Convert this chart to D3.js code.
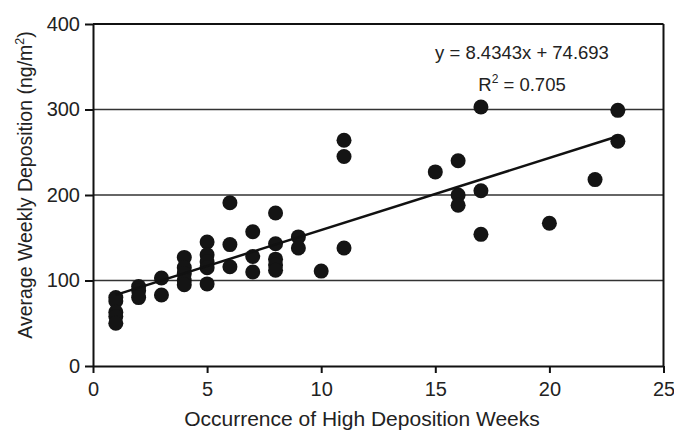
<!DOCTYPE html>
<html>
<head>
<meta charset="utf-8">
<script src="https://cdn.jsdelivr.net/npm/d3@7"></script>
<style>
  body { margin: 0; background: #fff; }
  svg { font-family: "Liberation Sans", Arial, sans-serif; }
</style>
</head>
<body>
<div id="chart"></div>
<script>
// occurrence of high deposition weeks (x) and average weekly deposition (y)
const weeks = [
  1, 1, 1, 1, 1,
  2, 2, 2,
  3, 3,
  4, 4, 4, 4, 4,
  5, 5, 5, 5, 5,
  6, 6, 6,
  7, 7, 7,
  8, 8, 8, 8, 8,
  9, 9,
  10,
  11, 11, 11,
  15,
  16, 16, 16,
  17, 17, 17,
  20,
  22,
  23, 23
];
const deposition = [
  80, 76, 63, 58, 50,
  93, 88, 80,
  103, 83,
  127, 115, 108, 100, 95,
  145, 130, 122, 115, 96,
  191, 142, 116,
  157, 128, 110,
  179, 143, 125, 118, 112,
  151, 138,
  111,
  264, 245, 138,
  227,
  240, 200, 188,
  303, 205, 154,
  167,
  218,
  299, 263
];
const slope = 8.4343;
const intercept = 74.693;
const xTicks = [0, 5, 10, 15, 20, 25];
const yTicks = [0, 100, 200, 300, 400];

const config = {
  width: 674,
  height: 432,
  margin: { top: 24, right: 10, bottom: 66, left: 93 }
};

const innerW = 663.5 - config.margin.left;
const innerH = 366 - config.margin.top;

const svg = d3.select('#chart').append('svg')
  .attr('width', config.width)
  .attr('height', config.height);

const chart = svg.append('g')
  .attr('transform', `translate(${config.margin.left},${config.margin.top})`);

const xScale = d3.scaleLinear().domain([0, 25]).range([0, innerW]);
const yScale = d3.scaleLinear().domain([0, 400]).range([innerH, 0]);

// horizontal grid lines
chart.selectAll('.grid-line')
  .data(yTicks.filter(d => d > 0))
  .enter().append('line')
  .attr('class', 'grid-line')
  .attr('x1', 0)
  .attr('x2', innerW)
  .attr('y1', d => yScale(d))
  .attr('y2', d => yScale(d))
  .attr('stroke', d => d === 400 ? '#111' : '#333')
  .attr('stroke-width', d => d === 400 ? 2 : 1.5);

// right border
chart.append('line')
  .attr('x1', innerW).attr('x2', innerW)
  .attr('y1', 0).attr('y2', innerH)
  .attr('stroke', '#111')
  .attr('stroke-width', 2);

// axes
const xAxis = chart.append('g')
  .attr('transform', `translate(0,${innerH})`)
  .call(d3.axisBottom(xScale).tickValues(xTicks).tickSize(7).tickSizeOuter(0).tickPadding(9));

const yAxis = chart.append('g')
  .call(d3.axisLeft(yScale).tickValues(yTicks).tickSize(8).tickSizeOuter(0).tickPadding(5));

[xAxis, yAxis].forEach(ax => {
  ax.select('.domain').attr('stroke', '#111').attr('stroke-width', 2);
  ax.selectAll('.tick line').attr('stroke', '#111').attr('stroke-width', 2);
  ax.selectAll('.tick text')
    .attr('fill', '#222')
    .style('font-size', '20px')
    .style('font-family', '"Liberation Sans", Arial, sans-serif');
});

// points
chart.selectAll('.dot')
  .data(weeks.map((w, i) => [w, deposition[i]]))
  .enter().append('circle')
  .attr('class', 'dot')
  .attr('cx', d => xScale(d[0]))
  .attr('cy', d => yScale(d[1]))
  .attr('r', 7.5)
  .attr('fill', '#141414');

// trend line
const xMin = d3.min(weeks), xMax = d3.max(weeks);
chart.append('line')
  .attr('x1', xScale(xMin))
  .attr('y1', yScale(slope * xMin + intercept))
  .attr('x2', xScale(xMax))
  .attr('y2', yScale(slope * xMax + intercept))
  .attr('stroke', '#111')
  .attr('stroke-width', 2.5);

// equation
svg.append('text')
  .attr('x', 522).attr('y', 59)
  .attr('text-anchor', 'middle')
  .attr('fill', '#222')
  .style('font-size', '18.5px')
  .text(`y = ${slope}x + ${intercept}`);

const r2 = svg.append('text')
  .attr('x', 522).attr('y', 91)
  .attr('text-anchor', 'middle')
  .attr('fill', '#222')
  .style('font-size', '18.5px');
r2.append('tspan').text('R');
r2.append('tspan').attr('dy', -8).style('font-size', '12px').text('2');
r2.append('tspan').attr('dy', 8).text(' = 0.705');

// axis titles
svg.append('text')
  .attr('x', 362).attr('y', 426)
  .attr('text-anchor', 'middle')
  .attr('fill', '#222')
  .style('font-size', '21px')
  .text('Occurrence of High Deposition Weeks');

const yTitle = svg.append('text')
  .attr('transform', 'translate(32,185) rotate(-90)')
  .attr('text-anchor', 'middle')
  .attr('fill', '#222')
  .style('font-size', '19.5px');
yTitle.append('tspan').text('Average Weekly Deposition (ng/m');
yTitle.append('tspan').attr('dy', -8).style('font-size', '12.5px').text('2');
yTitle.append('tspan').attr('dy', 8).text(')');
</script>
</body>
</html>
